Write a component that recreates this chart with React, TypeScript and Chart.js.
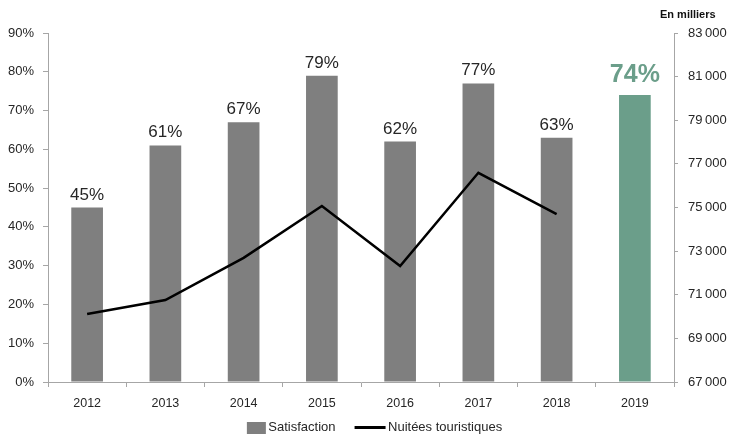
import React, { useEffect, useRef } from "react";
import { Chart, registerables } from "chart.js";

Chart.register(...registerables);

const years = ["2012", "2013", "2014", "2015", "2016", "2017", "2018", "2019"];
const satisfaction = [45, 61, 67, 79, 62, 77, 63, 74];
const nuitees = [70120, 70760, 72690, 75070, 72320, 76590, 74700, null];
const leftTicks = [0, 10, 20, 30, 40, 50, 60, 70, 80, 90];
const rightTicks = [67000, 69000, 71000, 73000, 75000, 77000, 79000, 81000, 83000];

const FONT = "'Liberation Sans', Arial, sans-serif";
const GRAY = "#7f7f7f";
const GREEN = "#6b9e8a";
const AXIS = "#a6a6a6";
const TEXT = "#262626";

function fmtThousands(v: number) {
  const s = String(Math.round(v));
  return s.replace(/\B(?=(\d{3})+(?!\d))/g, "\u202f");
}

function makeIcon(cw: number, ch: number, x: number, y: number, w: number, h: number, color: string) {
  const c = document.createElement("canvas");
  c.width = cw;
  c.height = ch;
  const ctx = c.getContext("2d")!;
  ctx.fillStyle = color;
  ctx.fillRect(x, y, w, h);
  return c;
}

const labelPlugin = {
  id: "barLabels",
  afterDatasetsDraw(chart: any) {
    const ctx = chart.ctx;
    const meta = chart.getDatasetMeta(0);
    ctx.save();
    ctx.textAlign = "center";
    ctx.textBaseline = "alphabetic";
    meta.data.forEach((bar: any, i: number) => {
      const last = i === satisfaction.length - 1;
      ctx.fillStyle = last ? GREEN : TEXT;
      ctx.font = last ? `bold 25px ${FONT}` : `17px ${FONT}`;
      ctx.fillText(satisfaction[i] + "%", bar.x, bar.y - (last ? 13 : 8));
    });
    const ra = chart.scales.y1;
    ctx.fillStyle = "#111111";
    ctx.font = `bold 11px ${FONT}`;
    ctx.textAlign = "left";
    ctx.textBaseline = "middle";
    ctx.fillText("En milliers", ra.left - 14, 15);
    ctx.restore();
  },
};

export default function App() {
  const ref = useRef<HTMLCanvasElement | null>(null);
  useEffect(() => {
    document.body.style.margin = "0";
    const barIcon = makeIcon(42, 12, 22, 0, 19, 12, GRAY);
    const lineIcon = makeIcon(42, 3, 10, 0, 31, 3, "#000000");
    const chart = new Chart(ref.current!, {
      type: "bar",
      data: {
        labels: years,
        datasets: [
          {
            type: "bar",
            label: "Satisfaction",
            data: satisfaction,
            backgroundColor: satisfaction.map((_, i) => (i === satisfaction.length - 1 ? GREEN : GRAY)),
            yAxisID: "y",
            barPercentage: 0.81,
            categoryPercentage: 0.5,
            order: 2,
            pointStyle: barIcon as any,
          },
          {
            type: "line",
            label: "Nuitées touristiques",
            data: nuitees as any,
            borderColor: "#000000",
            borderWidth: 2.5,
            pointRadius: 0,
            tension: 0,
            yAxisID: "y1",
            order: 1,
            pointStyle: lineIcon as any,
          },
        ],
      },
      options: {
        animation: false,
        responsive: false,
        devicePixelRatio: 1,
        layout: { padding: { top: 33, left: 0, right: 0, bottom: 0 } },
        plugins: {
          tooltip: { enabled: false },
          legend: {
            position: "bottom",
            maxHeight: 34,
            labels: {
              usePointStyle: true,
              pointStyleWidth: 32,
              boxHeight: 12,
              color: TEXT,
              font: { family: FONT, size: 13 },
              padding: 14,
              sort: (a: any, b: any) => a.datasetIndex - b.datasetIndex,
            },
          },
        },
        scales: {
          x: {
            grid: { display: true, drawOnChartArea: false, color: AXIS, tickLength: 5, offset: true },
            border: { color: AXIS, width: 1 },
            ticks: { color: TEXT, font: { family: FONT, size: 12.5 }, padding: 9 },
            afterFit(scale: any) {
              scale.height = 25;
            },
          },
          y: {
            position: "left",
            min: 0,
            max: 90,
            afterBuildTicks(scale: any) {
              scale.ticks = leftTicks.map((v) => ({ value: v }));
            },
            grid: { drawOnChartArea: false, color: AXIS, tickLength: 5 },
            border: { color: AXIS, width: 1 },
            ticks: {
              color: TEXT,
              font: { family: FONT, size: 13 },
              padding: 9,
              callback: (v: any) => v + "%",
            },
            afterFit(scale: any) {
              scale.width = 48;
            },
          },
          y1: {
            position: "right",
            min: 67000,
            max: 83000,
            afterBuildTicks(scale: any) {
              scale.ticks = rightTicks.map((v) => ({ value: v }));
            },
            grid: { drawOnChartArea: false, color: AXIS, tickLength: 4 },
            border: { color: AXIS, width: 1 },
            ticks: {
              color: TEXT,
              font: { family: FONT, size: 13 },
              padding: 10,
              callback: (v: any) => fmtThousands(Number(v)),
            },
            afterFit(scale: any) {
              scale.width = 58;
            },
          },
        },
      },
      plugins: [labelPlugin],
    });
    return () => chart.destroy();
  }, []);
  return (
    <div style={{ width: 732, height: 441 }}>
      <canvas ref={ref} width={732} height={441} style={{ display: "block" }} />
    </div>
  );
}
